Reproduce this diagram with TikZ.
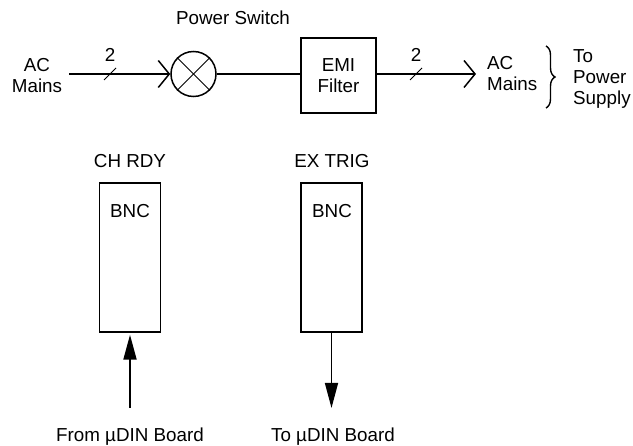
\documentclass[tikz,border=0pt]{standalone}
\usepackage{fontspec}
\setmainfont{Liberation Sans}
\usetikzlibrary{arrows.meta,decorations.pathreplacing}
\begin{document}
\begin{tikzpicture}[
  x=1pt,y=-1pt,
  every node/.style={font=\fontsize{18.8}{21}\selectfont,inner sep=0pt,align=center},
  wire/.style={draw,line width=1.5pt},
  bus tick/.style={draw,line width=1pt},
  open arrow/.style={-{Straight Barb[length=11pt,width=27pt,line width=1.5pt]}},
  solid arrow/.style={-{Triangle[length=25pt,width=13pt]}},
  filter box/.style={draw,line width=1.5pt,minimum width=75pt,minimum height=75pt},
  bnc box/.style={draw,line width=1.5pt,minimum width=61pt,minimum height=149pt},
  switch/.style={draw,circle,line width=1.5pt,minimum size=45pt},
  side text/.style={anchor=west,align=left}
]
  \useasboundingbox (0,0) rectangle (633,446);

  \node (acin) at (37,76) {AC\\Mains};
  \node (swlabel) at (233,18) {Power Switch};
  \node[switch] (sw) at (193.5,74) {};
  \node[filter box] (emi) at (338.5,75.5) {EMI\\Filter};
  \node[side text] (acout) at (487,74) {AC\\Mains};
  \node[side text] (psu) at (573,79) {To\\Power\\Supply};
  \node (twoin) at (110,55) {2};
  \node (twoout) at (416,55) {2};

  \coordinate (inend) at (69,74);
  \coordinate (outend) at (476,74);
  \coordinate (tickina) at (104,80);
  \coordinate (tickinb) at (116,68);
  \coordinate (tickouta) at (410,80);
  \coordinate (tickoutb) at (422,68);
  \coordinate (bracetop) at (546,46);
  \coordinate (bracebot) at (546,108);

  \draw[wire,open arrow] (inend)--(sw);
  \draw[wire] (sw)--(sw -| emi.west);
  \draw[wire,open arrow] (outend -| emi.east)--(outend);
  \draw[bus tick] (tickina)--(tickinb);
  \draw[bus tick] (tickouta)--(tickoutb);
  \draw[wire,line width=1pt] (sw.45)--(sw.225);
  \draw[wire,line width=1pt] (sw.135)--(sw.315);
  \draw[line width=1.4pt,decorate,decoration={brace,amplitude=9pt,mirror}] (bracebot)--(bracetop);

  \node (chlabel) at (130,161) {CH RDY};
  \node (exlabel) at (332,161) {EX TRIG};
  \node[bnc box] (chbox) at (130,257.5) {};
  \node[bnc box] (exbox) at (331.5,257.5) {};
  \node (chbnc) at (130,211) {BNC};
  \node (exbnc) at (332,211) {BNC};
  \node (fromdin) at (130,437) {From µDIN Board};
  \node (todin) at (333,437) {To µDIN Board};

  \coordinate (chend) at (130,408);
  \coordinate (exend) at (331.5,408);

  \draw[wire,line width=2pt,solid arrow,shorten >=2pt] (chend)--(chbox);
  \draw[wire,solid arrow] (exbox)--(exend);
\end{tikzpicture}
\end{document}
